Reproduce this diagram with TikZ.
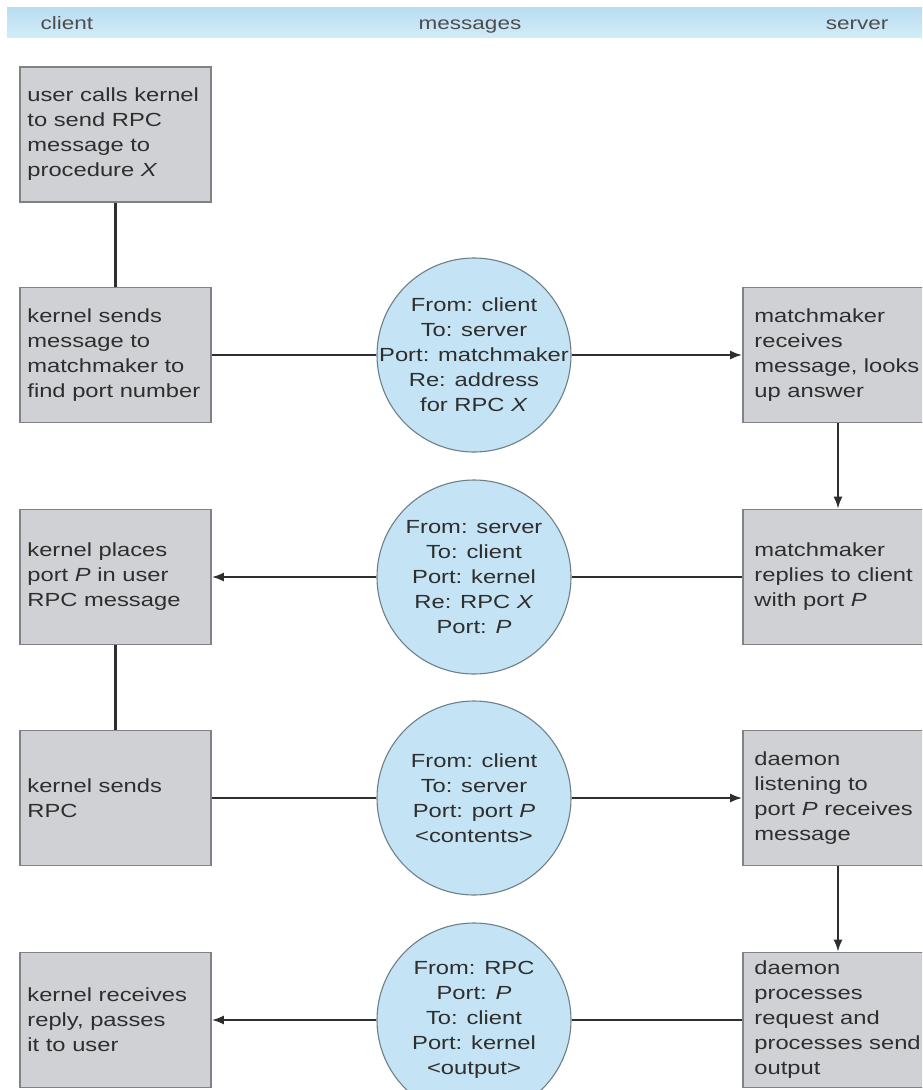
\documentclass[tikz,border=0pt]{standalone}
\usepackage{fontspec}
\setmainfont[FakeStretch=1.25]{Liberation Sans}
\usetikzlibrary{arrows.meta}
\definecolor{boxfill}{HTML}{CFD1D4}
\definecolor{boxline}{HTML}{808285}
\definecolor{msgfill}{HTML}{C4E4F5}
\definecolor{msgline}{HTML}{6E7F88}
\definecolor{ink}{HTML}{2E2E2E}
\definecolor{bandtop}{HTML}{B8DDF2}
\definecolor{bandbot}{HTML}{D2EBF8}
\begin{document}
\begin{tikzpicture}[x=1pt,y=-1pt,
  lbox/.style={draw=boxline, line width=1.6pt, fill=boxfill, rectangle, minimum width=191pt, minimum height=135pt, inner sep=0pt},
  btext/.style={anchor=west, align=left, inner sep=0pt, text=ink, font=\fontsize{19}{25}\selectfont},
  msg/.style={draw=msgline, line width=1.1pt, fill=msgfill, circle, minimum size=194pt, inner sep=0pt},
  mtext/.style={align=center, inner sep=0pt, text=ink, font=\fontsize{19}{25}\selectfont},
  head/.style={anchor=base, inner sep=0pt, text=ink!85, font=\fontsize{18}{20}\selectfont},
  conn/.style={draw=ink, line width=2.2pt},
  arr/.style={conn, -{Latex[length=12pt,width=9pt]}}
]
\useasboundingbox (0,0) rectangle (922,1090);
\clip (0,0) rectangle (922,1090);
\fill[white] (0,0) rectangle (922,1090);

% header band
\shade[top color=bandtop, bottom color=bandbot] (7,7) rectangle (922,37);
\node[head] (hclient) at (67,29) {client};
\node[head] (hmsg) at (470,29) {messages};
\node[head] (hserver) at (857,29) {server};

% client boxes
\node[lbox] (c1) at (115.5,134.5) {};
\node[btext] (c1t) at ([xshift=8pt]c1.west) {user calls kernel\\to send RPC\\message to\\procedure \textit{X}};
\node[lbox] (c2) at (115.5,355) {};
\node[btext] (c2t) at ([xshift=8pt]c2.west) {kernel sends\\message to\\matchmaker to\\find port number};
\node[lbox] (c3) at (115.5,577) {};
\node[btext] (c3t) at ([xshift=8pt]c3.west) {kernel places\\port \textit{P} in user\\RPC message};
\node[lbox] (c4) at (115.5,798) {};
\node[btext] (c4t) at ([xshift=8pt]c4.west) {kernel sends\\RPC};
\node[lbox] (c5) at (115.5,1020) {};
\node[btext] (c5t) at ([xshift=8pt]c5.west) {kernel receives\\reply, passes\\it to user};

% server boxes
\node[lbox, minimum width=190pt] (s1) at (838,355) {};
\node[btext] (s1t) at ([xshift=12pt]s1.west) {matchmaker\\receives\\message, looks\\up answer};
\node[lbox, minimum width=190pt] (s2) at (838,577) {};
\node[btext] (s2t) at ([xshift=12pt]s2.west) {matchmaker\\replies to client\\with port \textit{P}};
\node[lbox, minimum width=190pt] (s3) at (838,798) {};
\node[btext] (s3t) at ([xshift=12pt]s3.west) {daemon\\listening to\\port \textit{P} receives\\message};
\node[lbox, minimum width=190pt] (s4) at (838,1020) {};
\node[btext] (s4t) at ([xshift=12pt]s4.west) {daemon\\processes\\request and\\processes send\\output};

% messages
\node[msg] (m1) at (474,355) {};
\node[mtext] (m1t) at (m1) {From: client\\To: server\\Port: matchmaker\\Re: address\\for RPC \textit{X}};
\node[msg] (m2) at (474,577) {};
\node[mtext] (m2t) at (m2) {From: server\\To: client\\Port: kernel\\Re: RPC \textit{X}\\Port: \textit{P}};
\node[msg] (m3) at (474,798) {};
\node[mtext] (m3t) at (m3) {From: client\\To: server\\Port: port \textit{P}\\<contents>};
\node[msg] (m4) at (474,1020) {};
\node[mtext] (m4t) at (m4) {From: RPC\\Port: \textit{P}\\To: client\\Port: kernel\\<output>};

% connectors
\draw[conn] (c1) -- (c2);
\draw[conn] (c2) -- (m1);
\draw[arr] (m1) -- (s1);
\draw[arr] (s1) -- (s2);
\draw[conn] (s2) -- (m2);
\draw[arr] (m2) -- (c3);
\draw[conn] (c3) -- (c4);
\draw[conn] (c4) -- (m3);
\draw[arr] (m3) -- (s3);
\draw[arr] (s3) -- (s4);
\draw[conn] (s4) -- (m4);
\draw[arr] (m4) -- (c5);
\end{tikzpicture}
\end{document}
